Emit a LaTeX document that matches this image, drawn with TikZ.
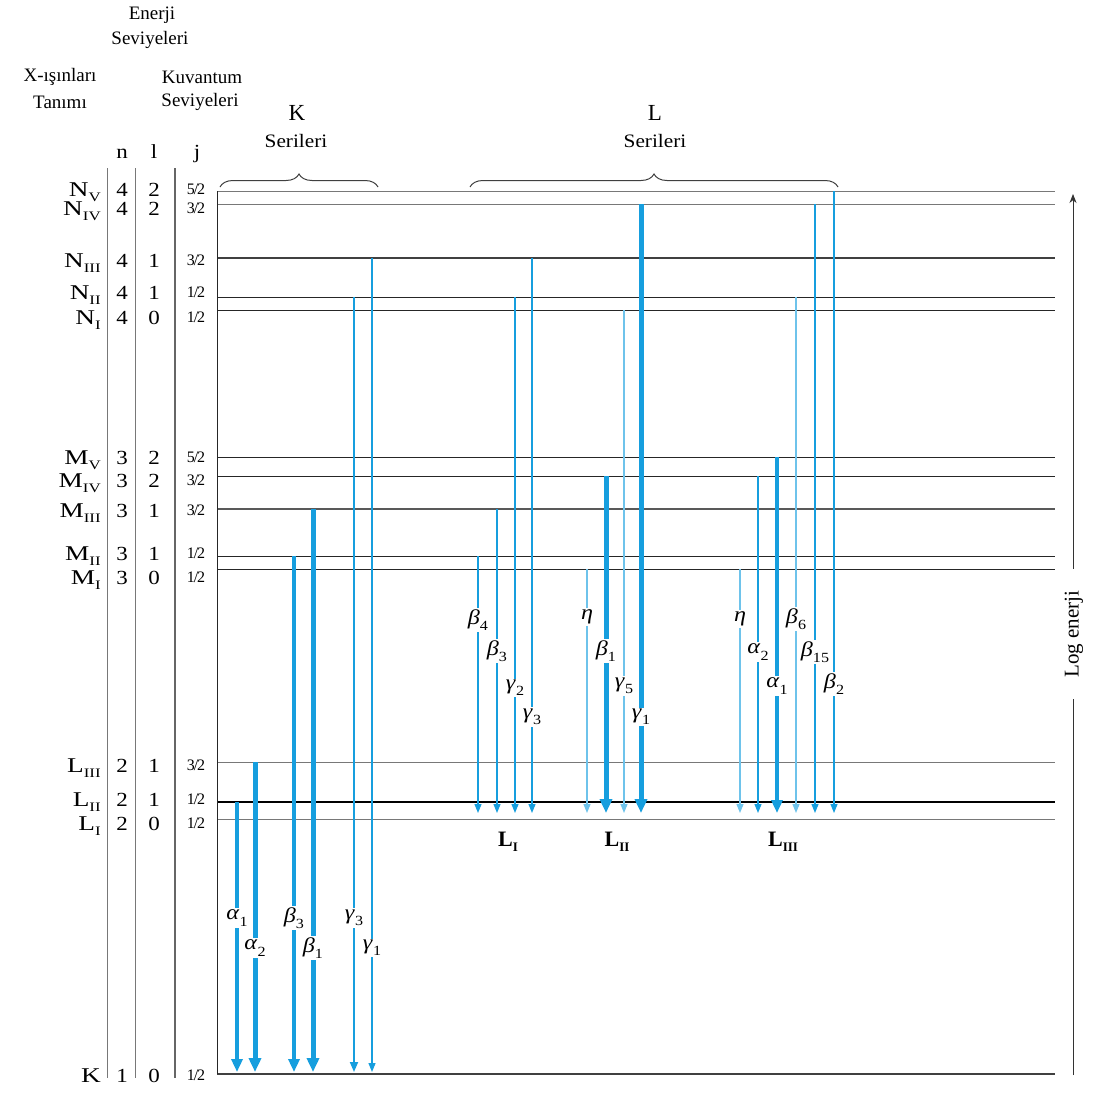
\documentclass[tikz,border=0pt]{standalone}
\usepackage{fontspec}
\setmainfont{Liberation Serif}
\usetikzlibrary{arrows.meta,decorations.pathreplacing}
\definecolor{xb}{RGB}{22,158,222}
\definecolor{xl}{RGB}{110,195,235}
\definecolor{lg}{RGB}{120,120,120}
\newcommand\fs[1]{\fontsize{#1}{#1}\selectfont}
\newcommand\sbs[1]{\raisebox{-0.25em}{\fs{13}#1}}
\newcommand\gk[2]{\textit{#1}\raisebox{-0.3em}{\fs{14}#2}}
\newcommand\fr[2]{#1\kern-1pt/\kern-1pt#2}
\newcommand\xarr[6]{%
  \coordinate (c#1) at (#1,0);
  \draw[#4] (c#1 |- #2) -- (c#1 |- #3);
  \node[glab] (g#1) at (#1,#6) {#5};
}
\tikzset{
  lvl/.style={line width=1pt,black!85},
  lvlg/.style={line width=0.9pt,lg},
  col/.style={line width=0.8pt,lg},
  hdr/.style={font=\fs{19}, inner sep=0pt},
  num/.style={font=\fs{20}, anchor=base, inner sep=0pt, xscale=1.15},
  jn/.style={font=\fs{16}, anchor=base, inner sep=0pt},
  lname/.style={font=\fs{21}, anchor=base east, inner sep=0pt, xscale=1.3},
  glab/.style={font=\fs{21}, fill=white, inner sep=1.5pt, xscale=1.15},
  athick/.style={xb, line width=5pt, -{Triangle[width=12pt,length=14pt]}},
  amed/.style={xb, line width=3.8pt, -{Triangle[width=11pt,length=13pt]}},
  athin/.style={xb, line width=1.8pt, -{Triangle[width=8pt,length=10pt]}},
  ahair/.style={xb, line width=1.2pt, -{Triangle[width=7pt,length=9pt]}},
  alight/.style={xl, line width=1.2pt, -{Triangle[width=7pt,length=9pt]}},
  brc/.style={decorate, decoration={brace, amplitude=13pt}, line width=1pt, black!75},
}
\begin{document}
\begin{tikzpicture}[x=1pt,y=-1pt]
\useasboundingbox (0,0) rectangle (1094,1092);
\fill[white] (0,0) rectangle (1094,1092);

% headers
\node[hdr] (h1) at (152,15) {Enerji};
\node[hdr] (h2) at (150,40) {Seviyeleri};
\node[hdr] (h3) at (60,77) {X-ışınları};
\node[hdr] (h4) at (60,102) {Tanımı};
\node[hdr] (h5) at (202,77) {Kuvantum};
\node[hdr] (h6) at (200,102) {Seviyeleri};
\node[num] (hn) at (122,158) {n};
\node[num] (hl) at (154,158) {l};
\node[num] (hj) at (197,158) {j};

\node[font=\fs{23}, inner sep=0pt] (KK) at (297,113) {K};
\node[hdr, xscale=1.12] (KS) at (296,141) {Serileri};
\node[font=\fs{23}, inner sep=0pt] (LL) at (655,113) {L};
\node[hdr, xscale=1.12] (LS) at (655,141) {Serileri};

% braces
\coordinate (kb1) at (220,187);
\coordinate (kb2) at (378,187);
\coordinate (lb1) at (470,187);
\coordinate (lb2) at (838,187);
\draw[brc] (kb1) -- (kb2);
\draw[brc] (lb1) -- (lb2);

% column lines
\coordinate (c1t) at (107,168); \coordinate (c1b) at (107,1078);
\coordinate (c2t) at (135,168); \coordinate (c2b) at (135,1078);
\coordinate (c3t) at (175,168); \coordinate (c3b) at (175,1078);
\draw[col] (c1t) -- (c1b);
\draw[col] (c2t) -- (c2b);
\draw[line width=2.6pt, black!60] (c3t) -- (c3b);

% level coordinates
\coordinate (R) at (1055,0);
\coordinate (NV) at (217,191);
\coordinate (NIV) at (217,204);
\coordinate (NIII) at (217,258);
\coordinate (NII) at (217,297);
\coordinate (NI) at (217,310);
\coordinate (MV) at (217,457);
\coordinate (MIV) at (217,476);
\coordinate (MIII) at (217,509);
\coordinate (MII) at (217,556);
\coordinate (MI) at (217,569);
\coordinate (LIII) at (217,762);
\coordinate (LII) at (217,802);
\coordinate (LI) at (217,819);
\coordinate (K) at (217,1074);
\coordinate (KT) at (217,1072);
\coordinate (LT) at (217,813);

\draw[lvlg] (NV) -- (NV -| R);
\draw[lvlg] (NIV) -- (NIV -| R);
\draw[line width=1.3pt, black!75] (NIII) -- (NIII -| R);
\draw[lvl] (NII) -- (NII -| R);
\draw[lvl] (NI) -- (NI -| R);
\draw[lvl] (MV) -- (MV -| R);
\draw[lvl] (MIV) -- (MIV -| R);
\draw[line width=2.6pt, black!65] (MIII) -- (MIII -| R);
\draw[lvl] (MII) -- (MII -| R);
\draw[lvl] (MI) -- (MI -| R);
\draw[lvlg] (LIII) -- (LIII -| R);
\draw[line width=1.3pt, black] (LII) -- (LII -| R);
\draw[lvlg] (LI) -- (LI -| R);
\draw[line width=2pt, black!75] (K) -- (K -| R);
\draw[line width=1pt, black!85] (NV) -- (K);

% row labels (name / baseline y / label / n / l / j)
\foreach \nm/\y/\lab/\n/\l/\j in {
  rNV/196/N\sbs{V}/4/2/{\fr52},
  rNIV/215/N\sbs{IV}/4/2/{\fr32},
  rNIII/267/N\sbs{III}/4/1/{\fr32},
  rNII/299/N\sbs{II}/4/1/{\fr12},
  rNI/324/N\sbs{I}/4/0/{\fr12},
  rMV/464/M\sbs{V}/3/2/{\fr52},
  rMIV/487/M\sbs{IV}/3/2/{\fr32},
  rMIII/517/M\sbs{III}/3/1/{\fr32},
  rMII/560/M\sbs{II}/3/1/{\fr12},
  rMI/584/M\sbs{I}/3/0/{\fr12},
  rLIII/772/L\sbs{III}/2/1/{\fr32},
  rLII/806/L\sbs{II}/2/1/{\fr12},
  rLI/830/L\sbs{I}/2/0/{\fr12},
  rK/1082/K/1/0/{\fr12}}{
  \node[lname] (\nm a) at (101,\y) {\lab};
  \node[num] (\nm n) at (122,\y) {\n};
  \node[num] (\nm l) at (154,\y) {\l};
  \node[jn] (\nm j) at (196,\y-2) {\j};
}

% K series
\xarr{237}{LII}{KT}{amed}{\gk{α}{1}}{918}
\xarr{255}{LIII}{KT}{athick}{\gk{α}{2}}{948}
\xarr{294}{MII}{KT}{amed}{\gk{β}{3}}{918}
\xarr{313}{MIII}{KT}{athick}{\gk{β}{1}}{948}
\xarr{354}{NII}{KT}{athin}{\gk{γ}{3}}{918}
\xarr{372}{NIII}{KT}{ahair}{\gk{γ}{1}}{948}

% L_I group
\xarr{478}{MII}{LT}{ahair}{\gk{β}{4}}{620}
\xarr{497}{MIII}{LT}{ahair}{\gk{β}{3}}{651}
\xarr{515}{NII}{LT}{ahair}{\gk{γ}{2}}{688}
\xarr{532}{NIII}{LT}{ahair}{\gk{γ}{3}}{717}
% L_II group
\xarr{587}{MI}{LT}{alight}{\textit{η}}{617}
\xarr{606}{MIV}{LT}{athick}{\gk{β}{1}}{651}
\xarr{624}{NI}{LT}{alight}{\gk{γ}{5}}{686}
\xarr{641}{NIV}{LT}{athick}{\gk{γ}{1}}{717}
% L_III group
\xarr{740}{MI}{LT}{alight}{\textit{η}}{619}
\xarr{758}{MIV}{LT}{ahair}{\gk{α}{2}}{652}
\xarr{777}{MV}{LT}{amed}{\gk{α}{1}}{686}
\xarr{796}{NII}{LT}{alight}{\gk{β}{6}}{619}
\xarr{815}{NIV}{LT}{ahair}{\gk{β}{15}}{652}
\xarr{834}{NV}{LT}{ahair}{\gk{β}{2}}{684}

% L sub-shell labels
\node[font=\fs{22}\bfseries, inner sep=0pt, anchor=base] (sLI) at (508,846) {L\sbs{I}};
\node[font=\fs{22}\bfseries, inner sep=0pt, anchor=base] (sLII) at (617,846) {L\sbs{II}};
\node[font=\fs{22}\bfseries, inner sep=0pt, anchor=base] (sLIII) at (783,846) {L\sbs{III}};

% log energy axis
\coordinate (ax1) at (1073,1075);
\coordinate (ax2) at (1073,194);
\node[font=\fs{21}, rotate=90, inner sep=0pt, minimum width=130pt] (logE) at (1074,634) {Log enerji};
\draw[line width=1pt, black!80] (ax1) -- (logE.west -| ax1);
\draw[line width=1pt, black!80, -{Stealth[width=7pt,length=9pt]}] (logE.east -| ax1) -- (ax2);
\end{tikzpicture}
\end{document}
